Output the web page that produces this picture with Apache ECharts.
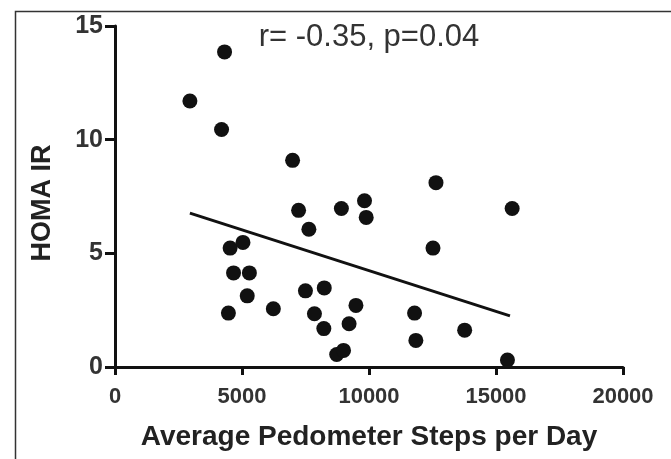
<!DOCTYPE html>
<html>
<head>
<meta charset="utf-8">
<script src="https://cdn.jsdelivr.net/npm/echarts@6/dist/echarts.min.js"></script>
<style>
  html, body { margin: 0; padding: 0; background: #fff; }
  #main { width: 671px; height: 459px; }
</style>
</head>
<body>
<div id="main"></div>
<script>
var steps = [2949, 4313, 4195, 6992, 4532, 5038, 4667, 5291, 5206, 4465, 6234,
  7228, 7633, 7498, 8239, 7852, 8222, 8913, 9823, 9890, 9486, 9216, 8728, 8997,
  12637, 12519, 11794, 11845, 13766, 15451, 15636];
var homa = [11.70, 13.86, 10.45, 9.09, 5.23, 5.48, 4.14, 4.14, 3.13, 2.37, 2.56,
  6.89, 6.06, 3.35, 3.48, 2.34, 1.69, 6.97, 7.31, 6.58, 2.71, 1.90, 0.55, 0.73,
  8.11, 5.23, 2.37, 1.17, 1.62, 0.31, 6.97];
var fitX = [2949, 15550];
var fitY = [6.77, 2.25];
var xTicks = [0, 5000, 10000, 15000, 20000];
var yTicks = [0, 5, 10, 15];

var points = steps.map(function (s, i) { return [s, homa[i]]; });
var fitLine = fitX.map(function (s, i) { return [s, fitY[i]]; });

var chart = echarts.init(document.getElementById('main'));
var option = {
  backgroundColor: '#fff',
  animation: false,
  grid: { left: 115, right: 48, top: 26, bottom: 92 },
  xAxis: {
    type: 'value',
    min: xTicks[0],
    max: xTicks[xTicks.length - 1],
    interval: 5000,
    splitLine: { show: false },
    axisLine: { lineStyle: { color: '#111', width: 3 } },
    axisTick: { length: 8, lineStyle: { color: '#111', width: 3 } },
    axisLabel: {
      color: '#333', fontSize: 22, fontWeight: 'bold',
      fontFamily: 'Liberation Sans', margin: 19,
      formatter: function (v) { return String(v); }
    },
    name: 'Average Pedometer Steps per Day',
    nameLocation: 'middle',
    nameGap: 56,
    nameTextStyle: { color: '#222', fontSize: 28, fontWeight: 'bold', fontFamily: 'Liberation Sans' }
  },
  yAxis: {
    type: 'value',
    min: yTicks[0],
    max: yTicks[yTicks.length - 1],
    interval: 5,
    splitLine: { show: false },
    axisLine: { onZero: false, lineStyle: { color: '#111', width: 3 } },
    axisTick: { length: 10, lineStyle: { color: '#111', width: 3 } },
    axisLabel: {
      color: '#333', fontSize: 25, fontWeight: 'bold', fontFamily: 'Liberation Sans', margin: 12
    }
  },
  graphic: [
    {
      type: 'rect', left: 13, top: 9, silent: true,
      shape: { width: 700, height: 500 },
      style: { fill: 'none', stroke: '#333', lineWidth: 1.5 }
    },
    {
      type: 'text', x: 369, y: 37,
      style: {
        text: 'r= -0.35, p=0.04', font: '31px Liberation Sans', fill: '#333',
        align: 'center', verticalAlign: 'middle'
      }
    },
    {
      type: 'text', x: 43, y: 203, rotation: Math.PI / 2,
      style: {
        text: 'HOMA IR', font: 'bold 27px Liberation Sans', fill: '#222',
        align: 'center', verticalAlign: 'middle'
      }
    }
  ],
  series: [
    {
      type: 'scatter',
      data: points,
      symbolSize: 15,
      itemStyle: { color: '#111', opacity: 1 }
    },
    {
      type: 'line',
      data: fitLine,
      symbol: 'none',
      lineStyle: { color: '#111', width: 3 }
    }
  ]
};
chart.setOption(option);
</script>
</body>
</html>
